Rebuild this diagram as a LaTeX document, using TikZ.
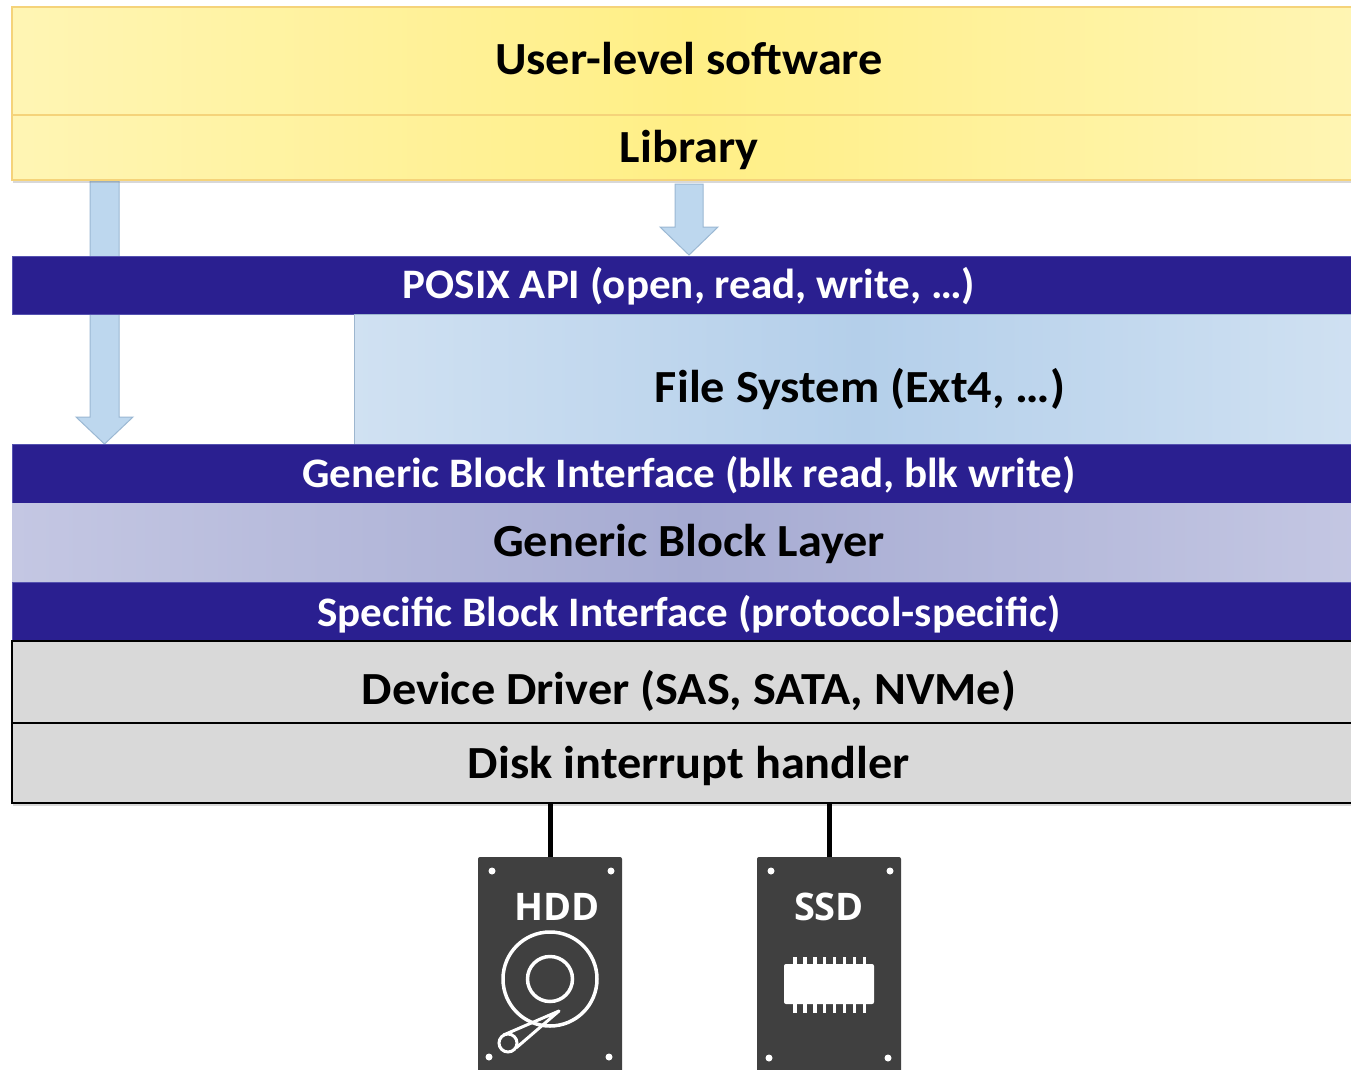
\documentclass[tikz,border=0pt]{standalone}
\usepackage{fontspec}
\setmainfont{Carlito}
\newfontfamily\drivefont{Open Sans}
\usetikzlibrary{shadows}
\definecolor{bandblue}{HTML}{2A1F90}
\definecolor{bandedge}{HTML}{5552B0}
\definecolor{yelL}{HTML}{FFF5B4}
\definecolor{yelM}{HTML}{FFEF86}
\definecolor{yelEdge}{HTML}{F5D37A}
\definecolor{fsL}{HTML}{D0E1F2}
\definecolor{fsM}{HTML}{B4CFEA}
\definecolor{fsEdge}{HTML}{9DB6CF}
\definecolor{gblL}{HTML}{C4C7E3}
\definecolor{gblM}{HTML}{A6ABD2}
\definecolor{grayfill}{HTML}{D9D9D9}
\definecolor{arrowfill}{HTML}{BDD7EE}
\definecolor{arrowedge}{HTML}{9BB8D3}
\definecolor{drive}{HTML}{404040}
\begin{document}
\begin{tikzpicture}[x=1pt,y=-1pt,
  box/.style={anchor=north west, inner sep=0pt, outer sep=0pt, minimum width=1354pt},
  yelbox/.style={box, draw=yelEdge, line width=1.5pt, left color=yelL, right color=yelL, middle color=yelM},
  band/.style={box, fill=bandblue, draw=bandedge, line width=0.8pt},
  graybox/.style={box, fill=grayfill, draw=black, line width=2pt},
  blklabel/.style={anchor=base, inner sep=0pt, font=\fontsize{46}{50}\selectfont\bfseries, text=black, xscale=1.05},
  whtlabel/.style={anchor=base, inner sep=0pt, font=\fontsize{42}{46}\selectfont\bfseries, text=white, xscale=1.025},
  drvlabel/.style={anchor=base, inner sep=0pt, font=\fontsize{38}{42}\drivefont\bfseries, text=white},
  blockarrow/.style={fill=arrowfill, draw=arrowedge, line width=1pt, line join=miter},
  shad/.style={drop shadow={opacity=0.3, shadow xshift=1pt, shadow yshift=-3pt}},
  drivebox/.style={anchor=north west, inner sep=0pt, outer sep=0pt, fill=drive, rounded corners=2pt, minimum width=144pt, minimum height=240pt},
  wdot/.style={fill=white},
  cable/.style={draw=black, line width=5pt}
]
\useasboundingbox (0,0) rectangle (1351,1070);
\clip (0,0) rectangle (1351,1070);
\fill[white] (0,0) rectangle (1351,1070);

% left block arrow (behind bands)
\draw[blockarrow] (90,181) -- (119,181) -- (119,417) -- (133,417) -- (104.5,444) -- (76,417) -- (90,417) -- cycle;

% yellow boxes
\node[yelbox, shad, minimum height=108pt] (user) at (12,7) {};
\node[yelbox, shad, minimum height=65pt] (lib) at (12,115) {};
\node[blklabel] (userlbl) at (689,75) {User-level software};
\node[blklabel] (liblbl) at (689,162) {Library};

% middle block arrow
\draw[blockarrow] (675,184) -- (703,184) -- (703,227) -- (718,227) -- (689,255) -- (660,227) -- (675,227) -- cycle;

% POSIX band
\node[band, minimum height=58pt] (posix) at (12,256) {};
\node[whtlabel] (posixlbl) at (689,298) {POSIX API (open, read, write, …)};

% File system
\node[anchor=north west, inner sep=0pt, outer sep=0pt, minimum width=1012pt, minimum height=130pt,
      left color=fsL, right color=fsL, middle color=fsM, draw=fsEdge, line width=1pt] (fs) at (354,314) {};
\node[blklabel] (fslbl) at (860,402) {File System (Ext4, …)};

% Generic block interface
\node[band, minimum height=59pt] (gbi) at (12,444) {};
\node[whtlabel] (gbilbl) at (689,487) {Generic Block Interface (blk read, blk write)};

% Generic block layer
\node[box, minimum height=79pt, left color=gblL, right color=gblL, middle color=gblM] (gbl) at (12,503) {};
\node[blklabel] (gbllbl) at (689,556) {Generic Block Layer};

% Specific block interface
\node[band, minimum height=59pt] (sbi) at (12,582) {};
\node[whtlabel] (sbilbl) at (689,626) {Specific Block Interface (protocol-specific)};

% Device driver and handler
\node[graybox, shad, minimum height=162pt] (grayback) at (12,641) {};
\node[graybox, minimum height=82pt] (driver) at (12,641) {};
\node[graybox, minimum height=80pt] (handler) at (12,723) {};
\node[blklabel] (driverlbl) at (689,704) {Device Driver (SAS, SATA, NVMe)};
\node[blklabel] (handlerlbl) at (689,778) {Disk interrupt handler};

% drives
\node[drivebox] (hdd) at (478,857) {};
\node[drivebox] (ssd) at (757,857) {};
\draw[cable] (hdd.north) -- (hdd.north |- handler.south);
\draw[cable] (ssd.north) -- (ssd.north |- handler.south);

\node[drvlabel] (hddlbl) at (557,920) {HDD};
\node[drvlabel] (ssdlbl) at (829,920) {SSD};

% screw dots
\foreach \p in {(492,871),(611,871),(489,1057),(609,1057),(771,871),(890,871),(769,1058),(888,1058)}
  \fill[wdot] \p circle[radius=3.5pt];

% HDD platter
\draw[white, line width=3.5pt] (550,979) circle[radius=47pt];
\draw[white, line width=3.5pt] (550,979) circle[radius=22.5pt];
\fill[drive] (508,1043) circle[radius=10pt];
\draw[white, line width=3pt, line join=round] (503.5,1035) -- (559,1011) -- (516,1048);
\draw[white, line width=3pt] (508,1043) circle[radius=9pt];

% SSD chip
\fill[white, rounded corners=2pt] (784,964) rectangle (874,1004);
\foreach \i in {0,...,7} {
  \fill[white] ({793.3+9.9*\i},957) rectangle ({796.7+9.9*\i},965);
  \fill[white] ({793.3+9.9*\i},1003) rectangle ({796.7+9.9*\i},1013);
}
\end{tikzpicture}
\end{document}
